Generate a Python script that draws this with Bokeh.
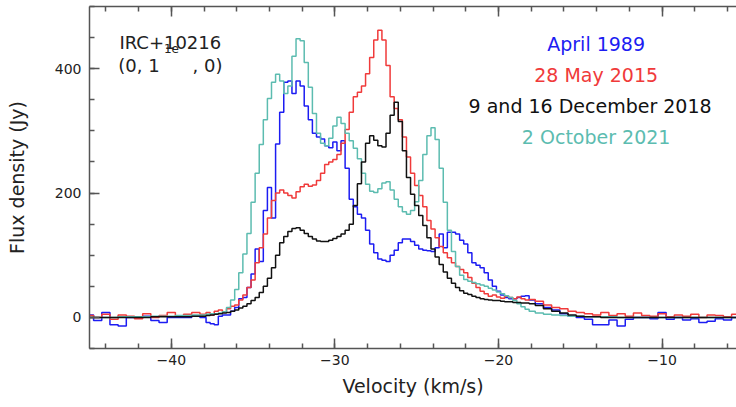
import numpy as np
from bokeh.plotting import figure
from bokeh.models import LinearAxis, SingleIntervalTicker, Label, Range1d, CustomLabelingPolicy
from bokeh.embed import file_html
from bokeh.resources import INLINE

# channel velocities (km/s)
vel_left = np.arange(-45.0, -38.4, 0.5)
vel_core = np.arange(-38.0, -17.9, 0.25)
vel_right = np.arange(-17.5, -4.9, 0.5)
velocity = np.concatenate([vel_left, vel_core, vel_right])

# April 1989 (blue)
blue_left = [4, -5, 8, -12, -14, 0, 0, 2, -5, -8, 0, 0, 0, 2]
blue_core = [0, -8, -10, -12, 2, 4, 4, 10, 16, 30, 32, 48, 70, 110, 90, 172, 209, 160,
             279, 330, 378, 380, 360, 380, 372, 340, 318, 296, 290, 287, 276, 273, 282,
             268, 284, 240, 190, 178, 166, 160, 140, 118, 104, 94, 92, 90, 100, 108, 120,
             126, 126, 122, 116, 110, 108, 107, 106, 112, 134, 112, 137, 137, 134, 124,
             118, 104, 88, 84, 80, 72, 60, 50, 42, 36, 32, 30, 30, 32, 34, 35, 28]
blue_right = [22, 16, 12, 6, 2, 0, -3, -12, -12, -4, -14, -3, 0, 0, -2, 8, -3, 0, -4, -2,
              -8, -6, -2, -4, 0, 2]

# 28 May 2015 (red)
red_left = [3, 0, 5, -3, 4, 2, -2, 6, 0, 3, 8, 2, 5, 8]
red_core = [5, 8, 4, 10, 12, 9, 14, 18, 20, 28, 36, 48, 60, 88, 112, 134, 160, 188, 200,
            205, 200, 196, 192, 202, 210, 214, 211, 213, 220, 232, 246, 250, 254, 262, 280,
            302, 330, 355, 362, 372, 392, 418, 446, 462, 446, 405, 355, 336, 318, 290, 258,
            232, 212, 196, 178, 156, 142, 128, 114, 104, 96, 88, 82, 77, 72, 64, 55, 48,
            42, 38, 34, 36, 33, 31, 34, 32, 30, 33, 30, 28, 29]
red_right = [26, 20, 16, 14, 10, 8, 6, 4, 8, 3, 6, 2, 7, 3, 2, 6, 1, 4, 2, 5, 0, 4, 3, 1, 5, 2]

# 9 and 16 December 2018 (black)
black_left = [0, 0, 0, 0, 0, 0, 0, 0, 1, 1, 1, 1, 1, 2]
black_core = [2, 3, 4, 5, 6, 7, 8, 10, 12, 15, 18, 22, 27, 32, 40, 50, 63, 80, 100, 120,
              130, 138, 143, 144, 140, 135, 130, 126, 123, 122, 122, 124, 127, 130, 134,
              140, 150, 180, 215, 250, 280, 292, 285, 276, 274, 296, 325, 346, 315, 268,
              225, 198, 180, 164, 148, 128, 110, 97, 85, 73, 63, 55, 48, 43, 39, 37, 34,
              32, 30, 29, 28, 27, 27, 26, 25, 25, 24, 24, 23, 23, 22]
black_right = [19, 14, 10, 7, 4, 2, 1, 1, 0, 0, 0, 0, 0, 0, 0, 0, 0, 0, 0, 0, 0, 0, 0, 0, 0, 0]

# 2 October 2021 (teal)
teal_left = [0, 0, 0, 0, 1, 1, 1, 1, 2, 2, 2, 3, 3, 4]
teal_core = [4, 5, 6, 6, 7, 9, 16, 28, 45, 72, 102, 135, 185, 232, 278, 318, 352, 378, 391,
             380, 360, 372, 420, 448, 445, 410, 370, 328, 296, 280, 276, 288, 308, 322, 312,
             296, 284, 272, 255, 232, 214, 203, 201, 207, 216, 218, 205, 190, 178, 170, 166,
             172, 186, 220, 262, 292, 305, 286, 240, 185, 140, 106, 82, 68, 61, 58, 56, 54,
             52, 50, 47, 44, 41, 38, 35, 32, 27, 22, 17, 13, 10]
teal_right = [7, 5, 4, 3, 2, 2, 1, 1, 1, 1, 0, 0, 0, 0, 0, 0, 0, 0, 0, 0, 0, 0, 0, 0, 0, 0]

series = [
    ("April 1989", blue_left + blue_core + blue_right, "#1c1cf2"),
    ("28 May 2015", red_left + red_core + red_right, "#f03a3a"),
    ("2 October 2021", teal_left + teal_core + teal_right, "#5cbcb0"),
    ("9 and 16 December 2018", black_left + black_core + black_right, "#111111"),
]

FONT = "DejaVu Sans"
AX = "#555555"

p = figure(width=736, height=407, output_backend="svg", toolbar_location=None,
           x_range=Range1d(-45, -5.45), y_range=Range1d(-50, 500),
           min_border_left=89, min_border_right=0, min_border_top=6, min_border_bottom=59)
p.outline_line_color = None
p.xgrid.visible = False
p.ygrid.visible = False
p.background_fill_color = "white"
p.border_fill_color = "white"

for name, flux, col in series:
    p.step(velocity, flux, mode="center", line_color=col, line_width=1.5)

def style(ax, ticker, show_labels, tick_in=10, minor_in=5):
    ax.ticker = ticker
    ax.axis_line_color = AX
    ax.axis_line_width = 1.5
    ax.major_tick_line_color = AX
    ax.minor_tick_line_color = AX
    ax.major_tick_line_width = 1.5
    ax.minor_tick_line_width = 1.5
    ax.major_tick_in = tick_in
    ax.major_tick_out = 0
    ax.minor_tick_in = minor_in
    ax.minor_tick_out = 0
    ax.major_label_text_font = FONT
    ax.major_label_text_color = "#222222"
    if show_labels:
        ax.major_label_text_font_size = "14px"
    else:
        ax.major_label_text_font_size = "1px"
        ax.major_label_standoff = 0
        ax.major_label_policy = CustomLabelingPolicy(code="return new Set()")

xa = p.xaxis[0]
style(xa, SingleIntervalTicker(interval=10, num_minor_ticks=5), True)
xa.major_label_standoff = 6
xa.major_label_overrides = {-40: "\u221240", -30: "\u221230", -20: "\u221220", -10: "\u221210"}
xa.axis_label = "Velocity (km/s)"
xa.axis_label_text_font = FONT
xa.axis_label_text_font_size = "19px"
xa.axis_label_text_font_style = "normal"
xa.axis_label_text_color = "#222222"
xa.axis_label_standoff = 7

ya = p.yaxis[0]
style(ya, SingleIntervalTicker(interval=200, num_minor_ticks=4), True)
ya.major_label_standoff = 8
ya.axis_label = "Flux density (Jy)"
ya.axis_label_text_font = FONT
ya.axis_label_text_font_size = "19px"
ya.axis_label_text_font_style = "normal"
ya.axis_label_text_color = "#222222"
ya.axis_label_standoff = 24

top = LinearAxis()
style(top, SingleIntervalTicker(interval=10, num_minor_ticks=5), False)
p.add_layout(top, "above")

def lab(x, y, text, color="#222222", size="19px", align="left"):
    p.add_layout(Label(x=x, y=y, text=text, text_color=color, text_font=FONT,
                       text_font_size=size, text_align=align, text_baseline="alphabetic"))

lab(-40.06, 442, "IRC+10216", size="18px", align="center")
lab(-43.24, 405, "(0, 1", size="18px")
lab(-40.45, 433, "1e", size="12px")
lab(-36.87, 405, ", 0)", size="18px", align="right")

lab(-14.03, 439.5, "April 1989", color=series[0][2], align="center")
lab(-14.03, 389.7, "28 May 2015", color=series[1][2], align="center")
lab(-14.4, 339.9, "9 and 16 December 2018", color="#111111", align="center")
lab(-14.03, 290, "2 October 2021", color=series[2][2], align="center")

open("out.html", "w").write(file_html(p, INLINE))
